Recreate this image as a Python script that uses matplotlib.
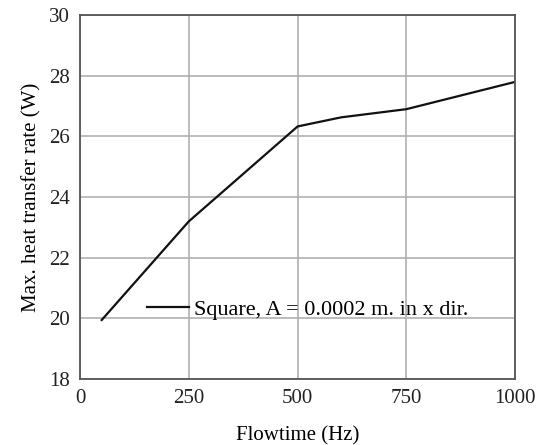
import matplotlib.pyplot as plt
import numpy as np

plt.rcParams['font.family'] = ['Liberation Serif', 'DejaVu Serif']

flowtime = np.array([50, 250, 500, 600, 750, 1000])
heat_rate = np.array([19.95, 23.2, 26.33, 26.63, 26.9, 27.8])
label = "Square, A = 0.0002 m. in x dir."

fig = plt.figure(figsize=(5.44, 4.45), dpi=100)
ax = fig.add_axes([0.147, 0.148, 0.8, 0.818])

ax.plot(flowtime, heat_rate, color='#111111', lw=1.6, label=label)

ax.set_xlim(0, 1000)
ax.set_ylim(18, 30)
ax.set_xticks([0, 250, 500, 750, 1000])
ax.set_yticks(np.arange(18, 31, 2))
ax.grid(True, color='#b0b0b0', lw=1.2)
ax.tick_params(length=0, labelsize=15, colors='#222222', pad=7)
for s in ax.spines.values():
    s.set_color('#555555')
    s.set_linewidth(1.3)

ax.set_xlabel("Flowtime (Hz)", fontsize=15, labelpad=13)
ax.set_ylabel("Max. heat transfer rate (W)", fontsize=15, labelpad=6)

ax.legend(loc='center left', bbox_to_anchor=(0.154, 0.192), frameon=False,
          fontsize=16, handlelength=1.9, handletextpad=0.2, borderpad=0,
          borderaxespad=0)

plt.savefig("out.png", dpi=100)
